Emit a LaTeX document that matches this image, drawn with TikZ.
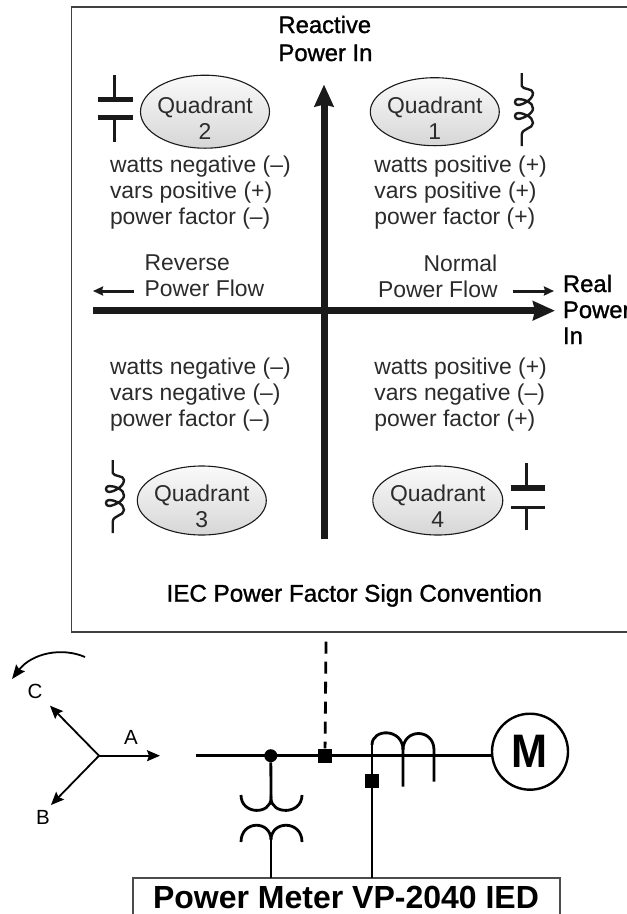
\documentclass[tikz,border=0pt]{standalone}
\usepackage{fontspec}
\setmainfont{Liberation Sans}
\newfontfamily\medfont[FakeBold=1.2]{Liberation Sans}
\usetikzlibrary{arrows.meta,shapes.geometric}
\definecolor{ink}{HTML}{1A1A1A}
\definecolor{soft}{HTML}{2B2B2B}
\tikzset{
  x=1pt,y=-1pt,
  body/.style={inner sep=0pt,outer sep=0pt,text=soft,font=\fontsize{22.9}{26}\selectfont,anchor=base west,align=left},
  headtext/.style={inner sep=0pt,outer sep=0pt,text=black,font=\fontsize{23.8}{28}\selectfont\medfont,anchor=base west,align=left},
  quad/.style={ellipse,draw=ink,line width=1.1pt,top color=black!2,bottom color=black!16,inner sep=0pt},
  axis/.style={draw=ink,line width=7pt,-{Stealth[length=22pt,width=19pt,inset=2pt]}},
  smallarrow/.style={draw=ink,line width=3pt,-{Stealth[length=10pt,width=9pt,inset=1pt]}},
  plate/.style={draw=ink,line width=5pt},
  stem/.style={draw=ink,line width=3.6pt},
  wire/.style={draw=black,line width=2.8pt},
  phase/.style={draw=black,line width=1.8pt,-{Stealth[length=13pt,width=11pt,inset=2pt]}},
  lab/.style={inner sep=0pt,outer sep=0pt,text=black,font=\fontsize{20.5}{20}\selectfont,anchor=base},
  sq/.style={fill=black,inner sep=0pt,minimum size=14pt,rectangle},
  coilp/.style={draw=ink,line width=2.4pt,line join=round}
}
\newcommand{\quadlabel}[1]{\fontsize{22.9}{25.5}\selectfont Quadrant\\#1}
\newcommand{\coilpath}{(521.7,73) -- (521.7,86) .. controls (523,90) and (533,88) .. (533,93)
  .. controls (533,100) and (522,105) .. (518,105) .. controls (514,105) and (514,99) .. (518,99)
  .. controls (524,99) and (533,102) .. (533,108.5)
  .. controls (533,114) and (522,119) .. (518,119) .. controls (514,119) and (514,113) .. (518,113)
  .. controls (524,113) and (533,117) .. (533,123)
  .. controls (533,129) and (521.7,128) .. (521.7,135) -- (521.7,146)}
\begin{document}
\begin{tikzpicture}
\useasboundingbox (0,0) rectangle (627,914);
\clip (0,0) rectangle (627,914);
% frame
\draw[draw=black!75,line width=1.3pt] (627,7) -- (71.5,7) -- (71.5,632) -- (627,632);
% axes
\coordinate (xL) at (93,310.7); \coordinate (xR) at (555,310.7);
\coordinate (yB) at (324,539); \coordinate (yT) at (324,84.5);
\draw[axis] (xL) -- (xR);
\draw[axis] (yB) -- (yT);
% axis labels
\node[headtext] (reactive) at (278.5,61) {Reactive\\Power In};
\node[headtext,font=\fontsize{23.8}{26}\selectfont\medfont] (real) at (563,344) {Real\\Power\\In};
\node[headtext,font=\fontsize{24.2}{25}\selectfont\medfont] (title) at (166.6,601.7) {IEC Power Factor Sign Convention};
% ellipses
\node[quad,minimum height=73pt,minimum width=129pt] (q2) at (205,111.7) {};
\node[quad,minimum height=68pt,minimum width=129pt] (q1) at (434.8,111.7) {};
\node[quad,minimum height=69pt,minimum width=129pt] (q3) at (201.8,500.5) {};
\node[quad,minimum height=69pt,minimum width=130pt] (q4) at (437.8,500.5) {};
\node[body,align=center,anchor=base] (q2t) at (205,139) {\quadlabel{2}};
\node[body,align=center,anchor=base] (q1t) at (434.8,139) {\quadlabel{1}};
\node[body,align=center,anchor=base] (q3t) at (201.8,527) {\quadlabel{3}};
\node[body,align=center,anchor=base] (q4t) at (437.8,527) {\quadlabel{4}};
% sign text
\node[body] (t2) at (110,224) {watts negative (–)\\vars positive (+)\\power factor (–)};
\node[body] (t1) at (374.4,224) {watts positive (+)\\vars positive (+)\\power factor (+)};
\node[body] (t3) at (110,426) {watts negative (–)\\vars negative (–)\\power factor (–)};
\node[body] (t4) at (374.4,426) {watts positive (+)\\vars negative (–)\\power factor (+)};
\node[body] (rev) at (144.6,296.7) {Reverse\\Power Flow};
\node[body] (nor) at (378,297) {\hspace*{45.5pt}Normal\\Power Flow};
\coordinate (ra0) at (134,291); \coordinate (ra1) at (93,291);
\coordinate (na0) at (513,291); \coordinate (na1) at (554,291);
\draw[smallarrow] (ra0) -- (ra1);
\draw[smallarrow] (na0) -- (na1);
% capacitors
\draw[stem] (114.4,75) -- (114.4,99);
\draw[plate] (97.7,99) -- (133,99);
\draw[plate] (97.7,117.7) -- (133,117.7);
\draw[stem] (114.4,117.7) -- (114.4,141.7);
\draw[stem] (526.5,463) -- (526.5,488);
\draw[plate,line width=5.5pt] (510.5,488) -- (545,488);
\draw[stem,line width=3pt] (510.5,507) -- (545,507);
\draw[stem] (526.5,507) -- (526.5,530);
% inductors
\draw[coilp] \coilpath;
\begin{scope}[shift={(-409,387)}]
\draw[coilp] \coilpath;
\end{scope}
% wye
\coordinate (n) at (99,755.7);
\node[lab] (la) at (131,744) {A};
\node[lab] (lc) at (35,698) {C};
\node[lab] (lb) at (43,824) {B};
\coordinate (ta) at (160,755.7); \coordinate (tc) at (50,705.7); \coordinate (tb) at (51,805);
\draw[phase] (n) -- (ta);
\draw[phase] (n) -- (tc);
\draw[phase] (n) -- (tb);
\coordinate (rot0) at (85,657); \coordinate (rot1) at (12,679);
\draw[draw=black,line width=1.8pt,-{Stealth[length=14pt,width=11pt,inset=2pt]}] (rot0) .. controls (62,647) and (32,653) .. (rot1);
% circuit
\node[circle,draw=black,line width=2.4pt,minimum size=76pt,inner sep=0pt,font=\fontsize{47}{47}\selectfont\bfseries] (m) at (530,751.7) {\scalebox{.92}[1]{M}};
\coordinate (busL) at (196,755.7);
\coordinate (busR) at (m.west|-busL);
\draw[wire] (busL) -- (busR);
\node[circle,fill=black,inner sep=0pt,minimum size=13pt] (dot) at (270.8,755.7) {};
\node[sq] (s1) at (325,755.5) {};
\coordinate (dashtop) at (326,641.7);
\draw[wire,dash pattern=on 12pt off 8pt] (dashtop) -- (s1);
\coordinate (boxTL) at (133,878); \coordinate (boxTR) at (560,878);
\draw[draw=black!70,line width=1.3pt] (133,920) -- (boxTL) -- (boxTR) -- (560,920);
\node[inner sep=0pt,anchor=base,font=\fontsize{32}{32}\selectfont\bfseries] (meter) at (346,908) {Power Meter VP-2040 IED};
% PT
\coordinate (ptU) at (271,798); \coordinate (ptD) at (271,878);
\draw[wire] (dot) -- (ptU);
\draw[wire] (241,795) .. controls (241,815) and (271,815) .. (ptU) .. controls (271,815) and (302,815) .. (302,795);
\draw[wire] (241,842) .. controls (241,820) and (271,820) .. (271,840) .. controls (271,820) and (302,820) .. (302,842);
\draw[wire] (271,838) -- (ptD);
% CT
\coordinate (ctB) at (372,878);
\draw[wire] (372,745) -- (ctB);
\node[sq] (s2) at (371.5,781) {};
\draw[wire] (372,745) .. controls (372,728) and (403,728) .. (403,750) -- (403,786.7);
\draw[wire] (403,750) .. controls (403,728) and (434,728) .. (434,750) -- (434,781.7);
\end{tikzpicture}
\end{document}
